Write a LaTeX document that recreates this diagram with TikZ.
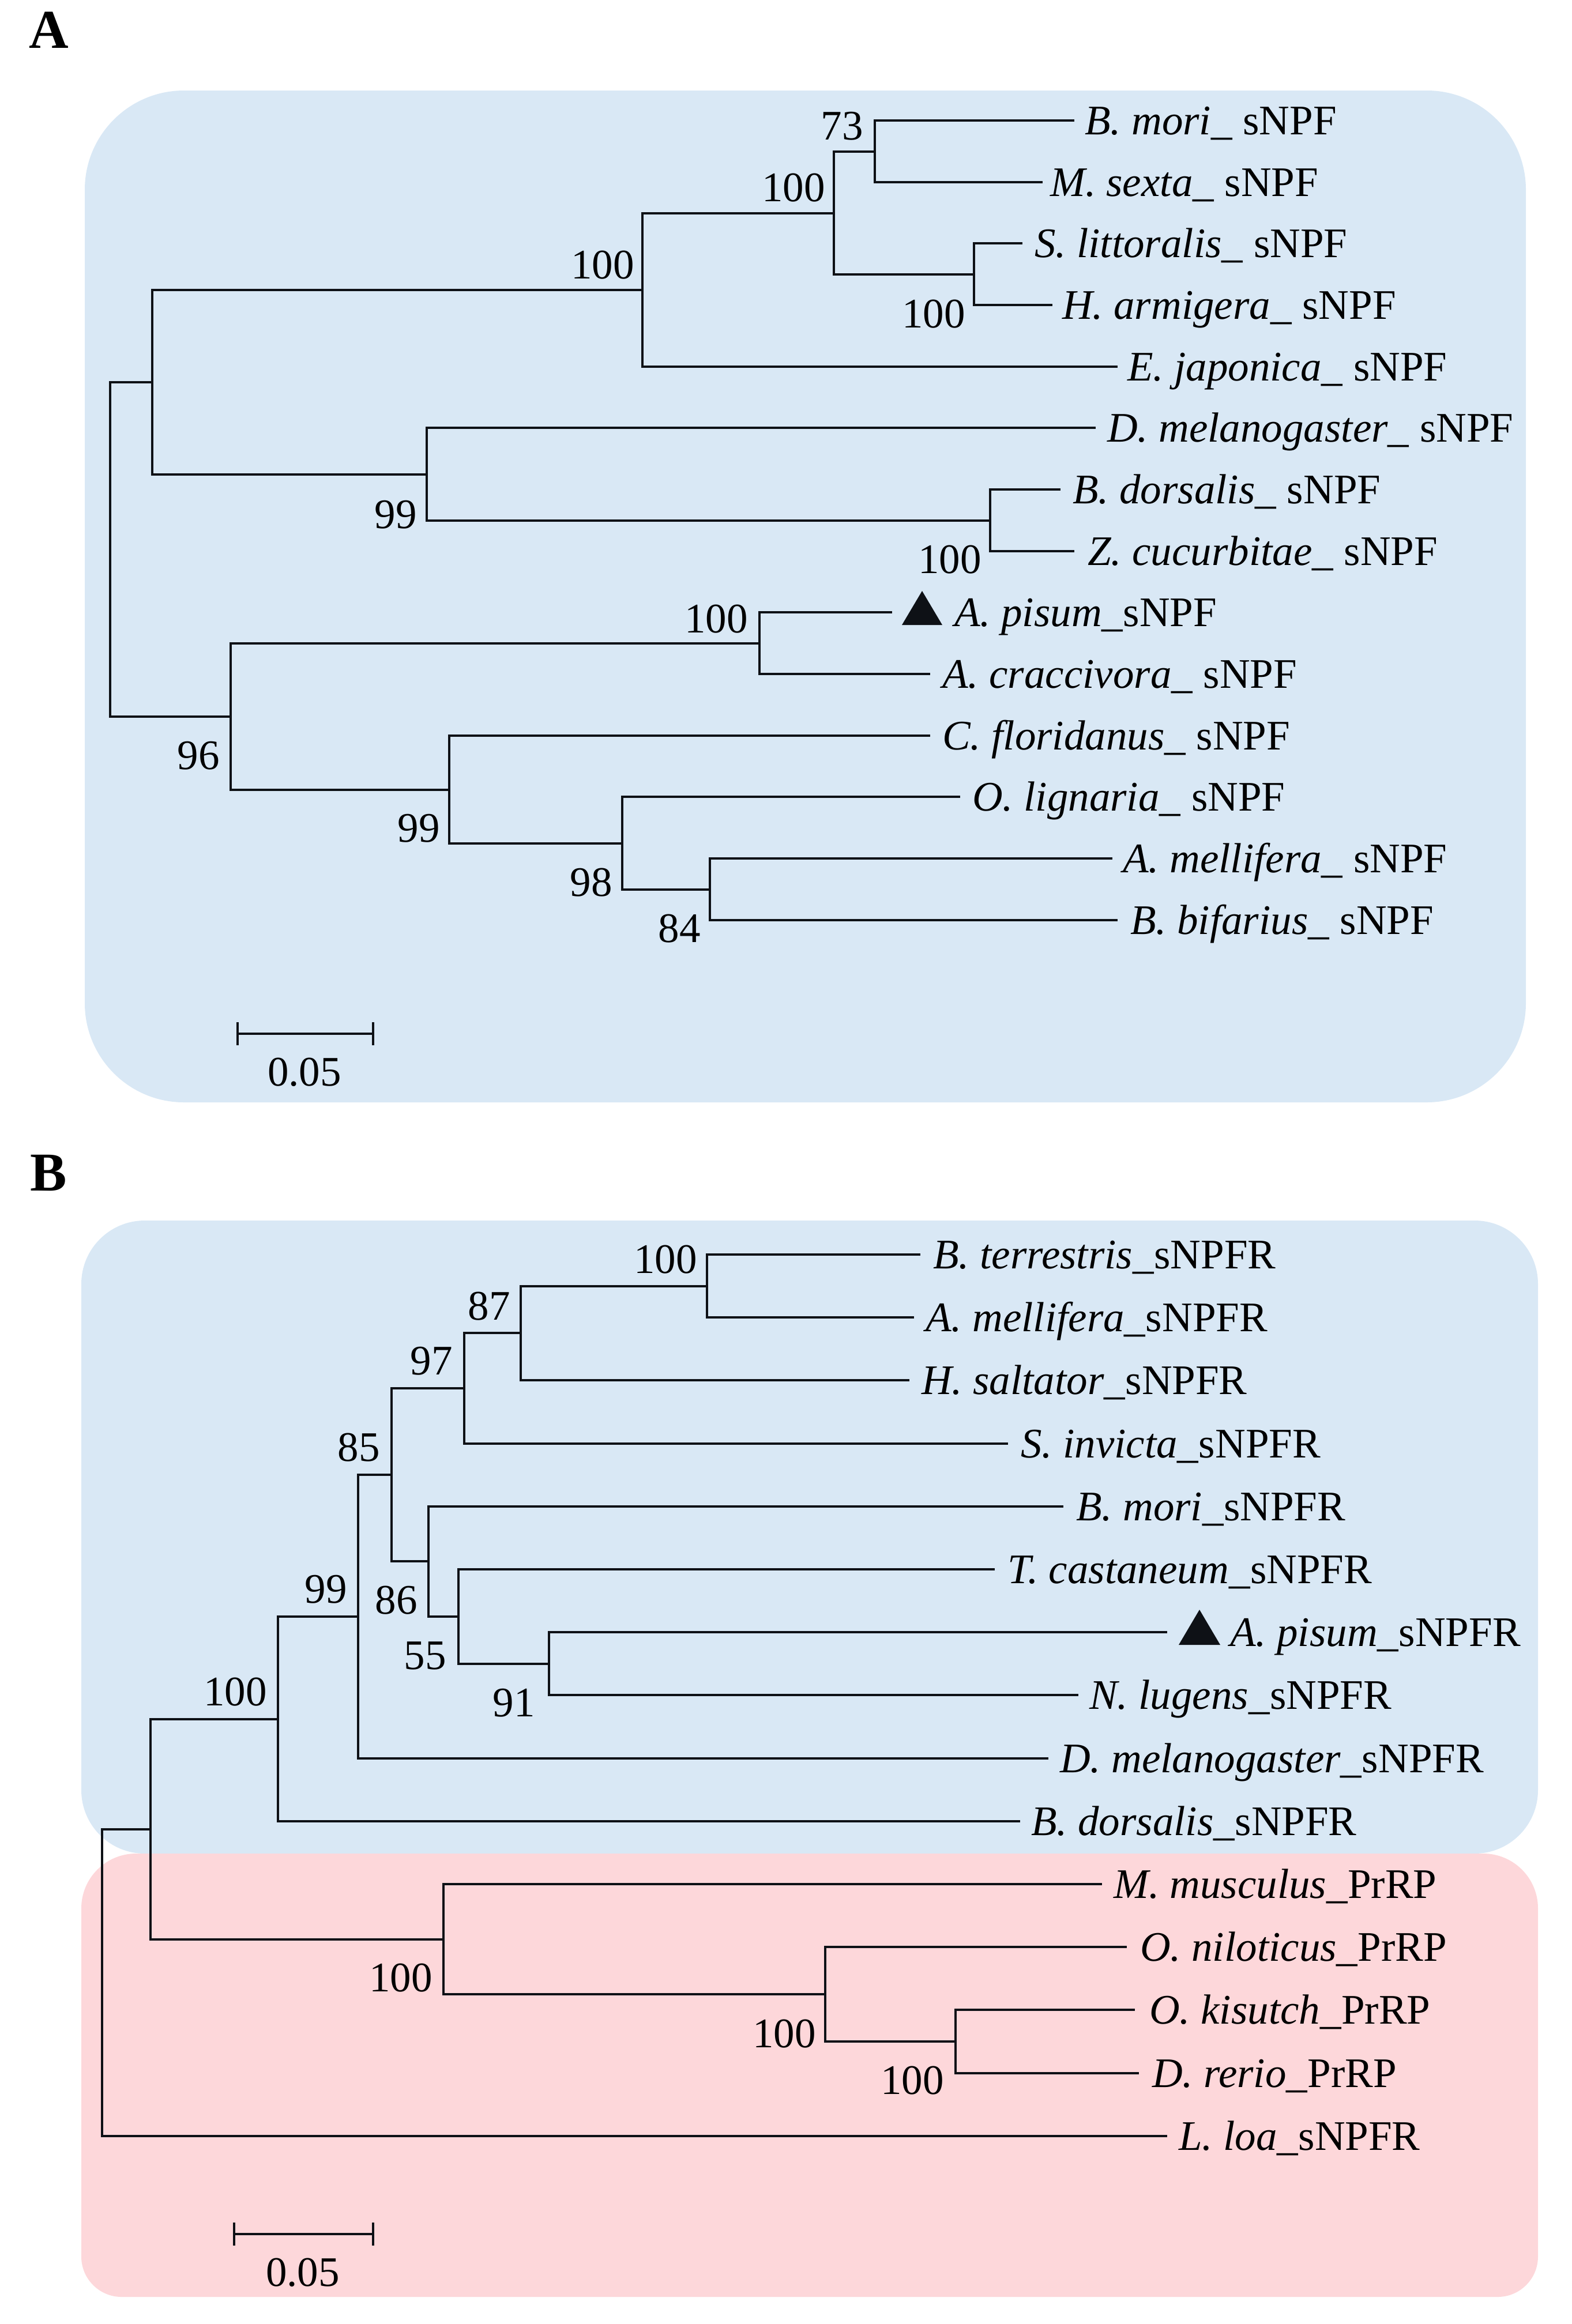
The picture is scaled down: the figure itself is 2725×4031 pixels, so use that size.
\documentclass[tikz,border=0pt]{standalone}
\usepackage{fontspec}
\setmainfont{Liberation Serif}
\definecolor{boxblue}{HTML}{D9E8F5}
\definecolor{boxpink}{HTML}{FDD7DA}
\definecolor{linec}{HTML}{0E1116}
\tikzset{
  branch/.style={draw=linec, line width=4.5pt},
  leaflab/.style={anchor=base west, inner sep=0pt, font=\fontsize{73}{80}\selectfont},
  bslab/.style={anchor=base east, inner sep=0pt, font=\fontsize{73}{80}\selectfont},
  panellab/.style={anchor=base west, inner sep=0pt, font=\fontsize{95}{100}\selectfont\bfseries},
  scalelab/.style={anchor=base, inner sep=0pt, font=\fontsize{73}{80}\selectfont},
  marker/.style={fill=linec, draw=none},
}
\begin{document}
\begin{tikzpicture}[x=1pt,y=-1pt]
\useasboundingbox (0,0) rectangle (2725,4031);

% ---------- background boxes ----------
\fill[boxblue, rounded corners=172pt] (147,157) rectangle (2646,1912);
\fill[boxblue, rounded corners=110pt] (141,2117) rectangle (2667,3215);
\fill[boxpink] (141,3600) [rounded corners=95pt] -- (141,3215) -- (2667,3215) -- (2667,3600)
  [rounded corners=70pt] -- (2667,3984) -- (141,3984) -- (141,3600) -- cycle;

% ---------- panel labels ----------
\node[panellab] (labA) at (50,83) {A};
\node[panellab] (labB) at (52,2065) {B};

% ================= PANEL A =================
% internal nodes
\coordinate (aroot) at (191,953);
\coordinate (ald) at (264,663);
\coordinate (a5) at (1114,503);
\coordinate (a4) at (1446,370);
\coordinate (ams) at (1517,263);
\coordinate (ala) at (1689,476);
\coordinate (adip) at (740,823);
\coordinate (adc) at (1717,903);
\coordinate (a96) at (400,1243);
\coordinate (aaph) at (1317,1116);
\coordinate (a99) at (779,1370);
\coordinate (a98) at (1079,1463);
\coordinate (a84) at (1231,1543);
% leaf ends
\coordinate (amori) at (1863,209);
\coordinate (asexta) at (1808,316);
\coordinate (alitt) at (1773,422);
\coordinate (aarm) at (1825,529);
\coordinate (ajap) at (1938,636);
\coordinate (amel) at (1900,742);
\coordinate (adors) at (1839,849);
\coordinate (acuc) at (1863,956);
\coordinate (apis) at (1547,1062);
\coordinate (acrac) at (1613,1169);
\coordinate (aflor) at (1613,1276);
\coordinate (alig) at (1665,1382);
\coordinate (amell) at (1929,1489);
\coordinate (abif) at (1938,1596);

\foreach \p/\c in {aroot/ald, aroot/a96, ald/a5, ald/adip, a5/a4, a5/ajap,
  a4/ams, a4/ala, ams/amori, ams/asexta, ala/alitt, ala/aarm,
  adip/amel, adip/adc, adc/adors, adc/acuc,
  a96/aaph, a96/a99, aaph/apis, aaph/acrac, a99/aflor, a99/a98,
  a98/alig, a98/a84, a84/amell, a84/abif}
  \draw[branch] (\p) |- (\c);

% leaf labels
\node[leaflab] (tamori) at (1881,233) {\textit{B. mori\_} sNPF};
\node[leaflab] (tasexta) at (1821,340) {\textit{M. sexta\_} sNPF};
\node[leaflab] (talitt) at (1794,446) {\textit{S. littoralis\_} sNPF};
\node[leaflab] (taarm) at (1842,553) {\textit{H. armigera\_} sNPF};
\node[leaflab] (tajap) at (1955,660) {\textit{E. japonica\_} sNPF};
\node[leaflab] (tamel) at (1920,766) {\textit{D. melanogaster\_} sNPF};
\node[leaflab] (tadors) at (1860,873) {\textit{B. dorsalis\_} sNPF};
\node[leaflab] (tacuc) at (1886,980) {\textit{Z. cucurbitae\_} sNPF};
\node[leaflab] (tapis) at (1655,1086) {\textit{A. pisum\_}sNPF};
\node[leaflab] (tacrac) at (1634,1193) {\textit{A. craccivora\_} sNPF};
\node[leaflab] (taflor) at (1634,1300) {\textit{C. floridanus\_} sNPF};
\node[leaflab] (talig) at (1686,1406) {\textit{O. lignaria\_} sNPF};
\node[leaflab] (tamell) at (1947,1513) {\textit{A. mellifera\_} sNPF};
\node[leaflab] (tabif) at (1960,1620) {\textit{B. bifarius\_} sNPF};

% marker
\fill[marker] (1564,1084) -- (1634,1084) -- (1599,1025) -- cycle;

% bootstrap values
\node[bslab] (ba73) at (1497,242) {73};
\node[bslab] (ba4) at (1431,349) {100};
\node[bslab] (ba5) at (1100,483) {100};
\node[bslab] (bala) at (1674,568) {100};
\node[bslab] (badip) at (723,916) {99};
\node[bslab] (badc) at (1702,994) {100};
\node[bslab] (baaph) at (1297,1097) {100};
\node[bslab] (ba96) at (381,1334) {96};
\node[bslab] (ba99) at (763,1460) {99};
\node[bslab] (ba98) at (1062,1554) {98};
\node[bslab] (ba84) at (1215,1634) {84};

% scale bar
\coordinate (sa1) at (412,1793);
\coordinate (sa2) at (647,1793);
\draw[branch] (sa1) -- (sa2);
\draw[branch] ([yshift=20pt]sa1) -- ([yshift=-20pt]sa1);
\draw[branch] ([yshift=20pt]sa2) -- ([yshift=-20pt]sa2);
\node[scalelab] (sla) at (528,1883) {0.05};

% ================= PANEL B =================
\coordinate (broot) at (177,3439);
\coordinate (btop) at (261,3173);
\coordinate (bins) at (482,2982);
\coordinate (b99) at (621,2804);
\coordinate (b85) at (679,2558);
\coordinate (b97) at (805,2408);
\coordinate (b87) at (903,2312);
\coordinate (btm) at (1226,2231);
\coordinate (b86) at (743,2708);
\coordinate (b55) at (795,2804);
\coordinate (b91) at (952,2886);
\coordinate (bvert) at (769,3364);
\coordinate (bf1) at (1431,3459);
\coordinate (bf2) at (1657,3541);
% leaf ends
\coordinate (bterr) at (1596,2176);
\coordinate (bmell) at (1585,2285);
\coordinate (bsalt) at (1577,2394);
\coordinate (binv) at (1748,2504);
\coordinate (bmori) at (1844,2613);
\coordinate (bcast) at (1725,2722);
\coordinate (bpis) at (2024,2831);
\coordinate (blug) at (1870,2940);
\coordinate (bmel) at (1818,3050);
\coordinate (bdors) at (1769,3159);
\coordinate (bmus) at (1911,3268);
\coordinate (bnil) at (1954,3377);
\coordinate (bkis) at (1968,3486);
\coordinate (brer) at (1975,3596);
\coordinate (bloa) at (2024,3705);

\foreach \p/\c in {broot/btop, broot/bloa, btop/bins, btop/bvert,
  bins/b99, bins/bdors, b99/b85, b99/bmel, b85/b97, b85/b86,
  b97/b87, b97/binv, b87/btm, b87/bsalt, btm/bterr, btm/bmell,
  b86/bmori, b86/b55, b55/bcast, b55/b91, b91/bpis, b91/blug,
  bvert/bmus, bvert/bf1, bf1/bnil, bf1/bf2, bf2/bkis, bf2/brer}
  \draw[branch] (\p) |- (\c);

% leaf labels
\node[leaflab] (tbterr) at (1618,2200) {\textit{B. terrestris\_}sNPFR};
\node[leaflab] (tbmell) at (1605,2309) {\textit{A. mellifera\_}sNPFR};
\node[leaflab] (tbsalt) at (1598,2418) {\textit{H. saltator\_}sNPFR};
\node[leaflab] (tbinv) at (1770,2528) {\textit{S. invicta\_}sNPFR};
\node[leaflab] (tbmori) at (1866,2637) {\textit{B. mori\_}sNPFR};
\node[leaflab] (tbcast) at (1747,2746) {\textit{T. castaneum\_}sNPFR};
\node[leaflab] (tbpis) at (2133,2855) {\textit{A. pisum\_}sNPFR};
\node[leaflab] (tblug) at (1889,2964) {\textit{N. lugens\_}sNPFR};
\node[leaflab] (tbmel) at (1838,3074) {\textit{D. melanogaster\_}sNPFR};
\node[leaflab] (tbdors) at (1788,3183) {\textit{B. dorsalis\_}sNPFR};
\node[leaflab] (tbmus) at (1931,3292) {\textit{M. musculus\_}PrRP};
\node[leaflab] (tbnil) at (1977,3401) {\textit{O. niloticus\_}PrRP};
\node[leaflab] (tbkis) at (1993,3510) {\textit{O. kisutch\_}PrRP};
\node[leaflab] (tbrer) at (1998,3620) {\textit{D. rerio\_}PrRP};
\node[leaflab] (tbloa) at (2044,3729) {\textit{L. loa\_}sNPFR};

% marker
\fill[marker] (2044,2853) -- (2116,2853) -- (2080,2792) -- cycle;

% bootstrap values
\node[bslab] (bbtm) at (1209,2208) {100};
\node[bslab] (bb87) at (885,2289) {87};
\node[bslab] (bb97) at (785,2384) {97};
\node[bslab] (bb85) at (659,2534) {85};
\node[bslab] (bb99) at (602,2780) {99};
\node[bslab] (bb86) at (724,2799) {86};
\node[bslab] (bb55) at (774,2895) {55};
\node[bslab] (bb91) at (928,2977) {91};
\node[bslab] (bbins) at (463,2958) {100};
\node[bslab] (bbvert) at (750,3454) {100};
\node[bslab] (bbf1) at (1415,3551) {100};
\node[bslab] (bbf2) at (1637,3632) {100};

% scale bar
\coordinate (sb1) at (406,3875);
\coordinate (sb2) at (647,3875);
\draw[branch] (sb1) -- (sb2);
\draw[branch] ([yshift=20pt]sb1) -- ([yshift=-20pt]sb1);
\draw[branch] ([yshift=20pt]sb2) -- ([yshift=-20pt]sb2);
\node[scalelab] (slb) at (525,3965) {0.05};

\end{tikzpicture}
\end{document}
